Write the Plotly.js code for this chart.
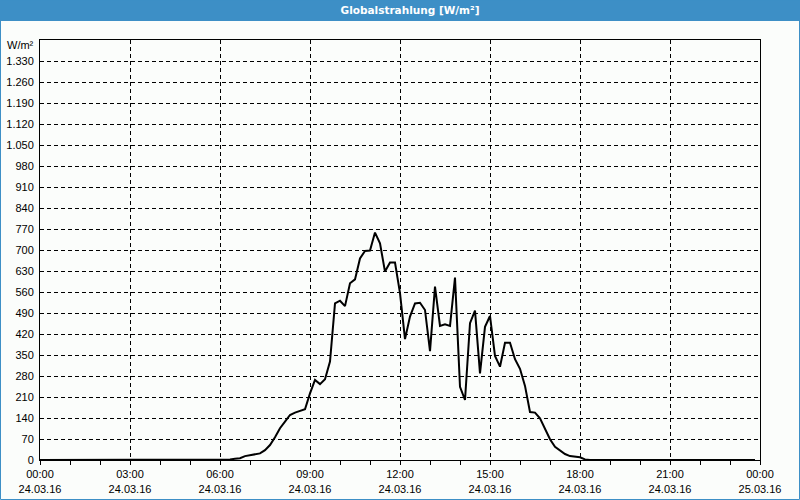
<!DOCTYPE html>
<html>
<head>
<meta charset="utf-8">
<script src="https://cdn.plot.ly/plotly-3.0.1.min.js"></script>
<style>html,body{margin:0;padding:0;background:#fbfdfb;}#chart{width:800px;height:500px;}</style>
</head>
<body>
<div id="chart"></div>
<script>
// Sample times (24.03.2016) and Globalstrahlung values in W/m²
var times = [
  "2016-03-24 00:00","2016-03-24 06:10","2016-03-24 06:20","2016-03-24 06:30","2016-03-24 06:40","2016-03-24 06:50",
  "2016-03-24 07:00","2016-03-24 07:10","2016-03-24 07:20","2016-03-24 07:30","2016-03-24 07:40","2016-03-24 07:50",
  "2016-03-24 08:00","2016-03-24 08:10","2016-03-24 08:20","2016-03-24 08:30","2016-03-24 08:40","2016-03-24 08:50",
  "2016-03-24 09:00","2016-03-24 09:10","2016-03-24 09:20","2016-03-24 09:30","2016-03-24 09:40","2016-03-24 09:50",
  "2016-03-24 10:00","2016-03-24 10:10","2016-03-24 10:20","2016-03-24 10:30","2016-03-24 10:40","2016-03-24 10:50",
  "2016-03-24 11:00","2016-03-24 11:10","2016-03-24 11:20","2016-03-24 11:30","2016-03-24 11:40","2016-03-24 11:50",
  "2016-03-24 12:00","2016-03-24 12:10","2016-03-24 12:20","2016-03-24 12:30","2016-03-24 12:40","2016-03-24 12:50",
  "2016-03-24 13:00","2016-03-24 13:10","2016-03-24 13:20","2016-03-24 13:30","2016-03-24 13:40","2016-03-24 13:50",
  "2016-03-24 14:00","2016-03-24 14:10","2016-03-24 14:20","2016-03-24 14:30","2016-03-24 14:40","2016-03-24 14:50",
  "2016-03-24 15:00","2016-03-24 15:10","2016-03-24 15:20","2016-03-24 15:30","2016-03-24 15:40","2016-03-24 15:50",
  "2016-03-24 16:00","2016-03-24 16:10","2016-03-24 16:20","2016-03-24 16:30","2016-03-24 16:40","2016-03-24 16:50",
  "2016-03-24 17:00","2016-03-24 17:10","2016-03-24 17:20","2016-03-24 17:30","2016-03-24 17:40","2016-03-24 17:50",
  "2016-03-24 18:00","2016-03-24 18:10","2016-03-24 18:20","2016-03-24 23:50"
];
var values = [
  0,0,2,4,6,13,
  16,20,22,33,50,76,
  106,128,150,158,164,169,
  222,267,253,269,328,522,
  531,513,589,602,672,697,
  698,758,722,628,658,658,
  556,403,478,522,524,500,
  363,578,447,452,447,608,
  244,200,456,498,289,444,
  480,347,311,391,391,336,
  304,247,160,158,139,106,
  69,44,31,20,13,11,
  9,2,0,0
];
var yTickVals = [0,70,140,210,280,350,420,490,560,630,700,770,840,910,980,1050,1120,1190,1260,1330];
var yTickText = ["0","70","140","210","280","350","420","490","560","630","700","770","840","910","980","1.050","1.120","1.190","1.260","1.330"];
var xTickVals = ["2016-03-24 00:00","2016-03-24 03:00","2016-03-24 06:00","2016-03-24 09:00","2016-03-24 12:00","2016-03-24 15:00","2016-03-24 18:00","2016-03-24 21:00","2016-03-25 00:00"];
var xTickText = ["00:00<br>24.03.16","03:00<br>24.03.16","06:00<br>24.03.16","09:00<br>24.03.16","12:00<br>24.03.16","15:00<br>24.03.16","18:00<br>24.03.16","21:00<br>24.03.16","00:00<br>25.03.16"];

var font = {family: "Liberation Sans, Arial, sans-serif", size: 11, color: "#000"};
var blue = "#3d8fc6";

var trace = {
  x: times, y: values, type: "scatter", mode: "lines",
  line: {color: "#000", width: 2}, hoverinfo: "skip"
};

var layout = {
  width: 800, height: 500,
  margin: {l: 40, r: 40, t: 40, b: 40, pad: 0},
  paper_bgcolor: "#fbfdfb", plot_bgcolor: "#fbfdfb",
  showlegend: false,
  font: font,
  title: {
    text: "<b>Globalstrahlung [W/m²]</b>",
    font: {family: "DejaVu Sans, sans-serif", size: 10.5, color: "#fff"},
    x: 0.5 + 10/720, xanchor: "center", xref: "paper",
    y: 0.979, yanchor: "middle", yref: "container"
  },
  xaxis: {
    type: "date",
    range: ["2016-03-24 00:00", "2016-03-25 00:00"],
    tickmode: "array", tickvals: xTickVals, ticktext: xTickText,
    ticks: "outside", ticklen: 4, tickcolor: "#000", tickwidth: 1,
    minor: {dtick: 3600000, ticks: "outside", ticklen: 4, tickcolor: "#000", showgrid: false},
    showgrid: true, gridcolor: "#000", gridwidth: 1, griddash: "4px,3px",
    showline: true, linecolor: "#000", linewidth: 1, mirror: true,
    zeroline: false, tickfont: font, fixedrange: true
  },
  yaxis: {
    range: [0, 1400],
    tickmode: "array", tickvals: yTickVals, ticktext: yTickText,
    ticks: "", ticklabelstandoff: 3,
    showgrid: true, gridcolor: "#000", gridwidth: 1, griddash: "4px,3px",
    showline: true, linecolor: "#000", linewidth: 1, mirror: true,
    zeroline: false, tickfont: font, fixedrange: true
  },
  shapes: [
    {type: "rect", xref: "paper", yref: "paper", x0: -40/720, x1: 1 + 40/720, y0: 1 + 19/420, y1: 1 + 40/420,
     fillcolor: blue, line: {width: 0}, layer: "below"},
    {type: "rect", xref: "paper", yref: "paper", x0: -39.5/720, x1: 1 + 39.5/720, y0: -39.5/420, y1: 1 + 40/420,
     fillcolor: "rgba(0,0,0,0)", line: {width: 1, color: blue}, layer: "above"}
  ],
  annotations: [
    {text: "W/m²", xref: "paper", yref: "paper", x: -4/720, y: 1 - 5/420, xanchor: "right", yanchor: "middle",
     showarrow: false, font: font}
  ]
};

Plotly.newPlot("chart", [trace], layout, {displayModeBar: false, staticPlot: true});
</script>
</body>
</html>
